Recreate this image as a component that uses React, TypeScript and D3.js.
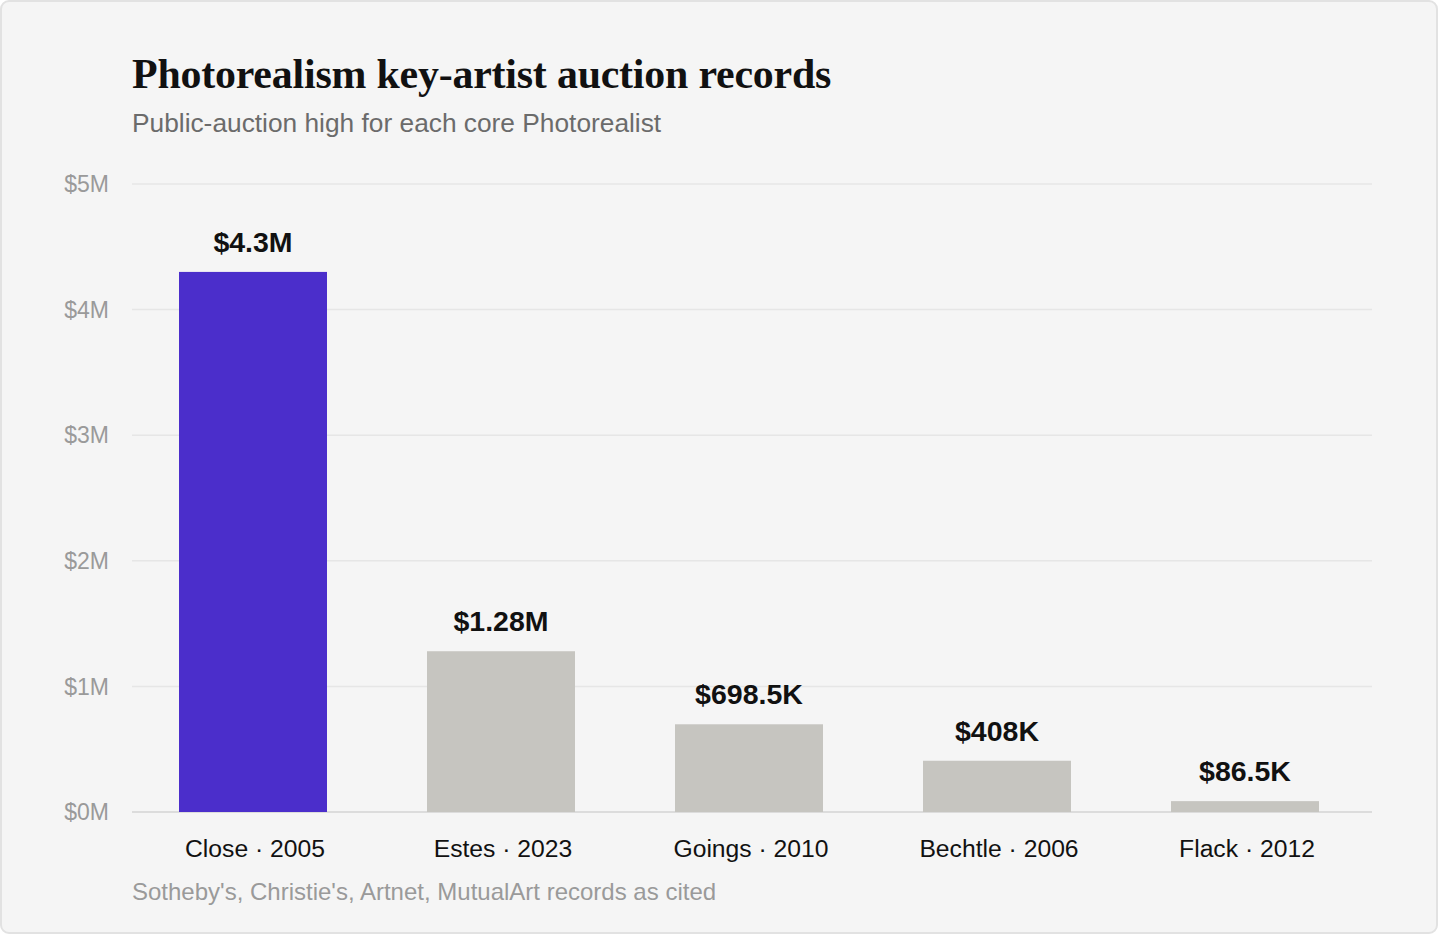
import React, { useEffect, useRef } from "react";
import * as d3 from "d3";

// values
const artists = ["Close · 2005", "Estes · 2023", "Goings · 2010", "Bechtle · 2006", "Flack · 2012"];
const records = [4300000, 1280000, 698500, 408000, 86500];
const recordLabels = ["$4.3M", "$1.28M", "$698.5K", "$408K", "$86.5K"];
const yTicks = [0, 1000000, 2000000, 3000000, 4000000, 5000000];

const width = 1440;
const height = 936;
const margin = { top: 184, right: 68, bottom: 124, left: 132 };

const App: React.FC = () => {
  const svgRef = useRef<SVGSVGElement>(null);

  useEffect(() => {
    document.body.style.margin = "0";
    const svg = d3.select(svgRef.current);
    svg.selectAll("*").remove();

    svg
      .append("rect")
      .attr("x", 1)
      .attr("y", 1)
      .attr("width", width - 4)
      .attr("height", height - 4)
      .attr("rx", 8)
      .attr("fill", "#f5f5f5")
      .attr("stroke", "#e2e2e2")
      .attr("stroke-width", 2);

    // bands sit a little left of the grid, as in the original
    const x = d3
      .scaleBand()
      .domain(artists)
      .range([margin.left - 2.6, width - margin.right - 3.4])
      .paddingInner(100 / 248)
      .paddingOuter(0.2);

    const y = d3
      .scaleLinear()
      .domain([0, 5000000])
      .range([height - margin.bottom, margin.top]);

    // grid
    const grid = svg.append("g");
    grid
      .selectAll("line")
      .data(yTicks)
      .join("line")
      .attr("x1", margin.left)
      .attr("x2", width - margin.right)
      .attr("y1", (d) => y(d))
      .attr("y2", (d) => y(d))
      .attr("stroke", (d) => (d === 0 ? "#dcdcdc" : "#e6e6e6"))
      .attr("stroke-width", (d) => (d === 0 ? 2 : 1.5));

    grid
      .selectAll("text")
      .data(yTicks)
      .join("text")
      .attr("x", margin.left - 23)
      .attr("y", (d) => y(d))
      .attr("dy", "0.36em")
      .attr("text-anchor", "end")
      .attr("fill", "#9a9a9a")
      .style("font", "23px 'Liberation Sans', Arial, sans-serif")
      .text((d) => `$${d / 1000000}M`);

    // bars
    svg
      .append("g")
      .selectAll("rect")
      .data(records)
      .join("rect")
      .attr("x", (_, i) => x(artists[i])!)
      .attr("y", (d) => y(d))
      .attr("width", x.bandwidth())
      .attr("height", (d) => y(0) - y(d))
      .attr("fill", (_, i) => (i === 0 ? "#4b2ecb" : "#c6c5c0"));

    // value labels
    svg
      .append("g")
      .selectAll("text")
      .data(records)
      .join("text")
      .attr("x", (_, i) => x(artists[i])! + x.bandwidth() / 2)
      .attr("y", (d) => y(d) - 20)
      .attr("text-anchor", "middle")
      .attr("fill", "#111")
      .style("font", "bold 28.5px 'Liberation Sans', Arial, sans-serif")
      .text((_, i) => recordLabels[i]);

    // category labels
    svg
      .append("g")
      .selectAll("text")
      .data(artists)
      .join("text")
      .attr("x", (d) => x(d)! + x.bandwidth() / 2 + 2)
      .attr("y", y(0) + 45)
      .attr("text-anchor", "middle")
      .attr("fill", "#111")
      .style("font", "24.7px 'Liberation Sans', Arial, sans-serif")
      .text((d) => d);

    svg
      .append("text")
      .attr("x", margin.left)
      .attr("y", 88)
      .attr("fill", "#111")
      .style("font", "bold 41.9px 'Liberation Serif', serif")
      .style("letter-spacing", "-0.2px")
      .text("Photorealism key-artist auction records");

    svg
      .append("text")
      .attr("x", margin.left)
      .attr("y", 132)
      .attr("fill", "#6b6b6b")
      .style("font", "26.3px 'Liberation Sans', Arial, sans-serif")
      .text("Public-auction high for each core Photorealist");

    svg
      .append("text")
      .attr("x", margin.left)
      .attr("y", 900)
      .attr("fill", "#9a9a9a")
      .style("font", "24px 'Liberation Sans', Arial, sans-serif")
      .text("Sotheby's, Christie's, Artnet, MutualArt records as cited");
  }, []);

  return <svg ref={svgRef} width={width} height={height} style={{ display: "block" }}></svg>;
};

export default App;
